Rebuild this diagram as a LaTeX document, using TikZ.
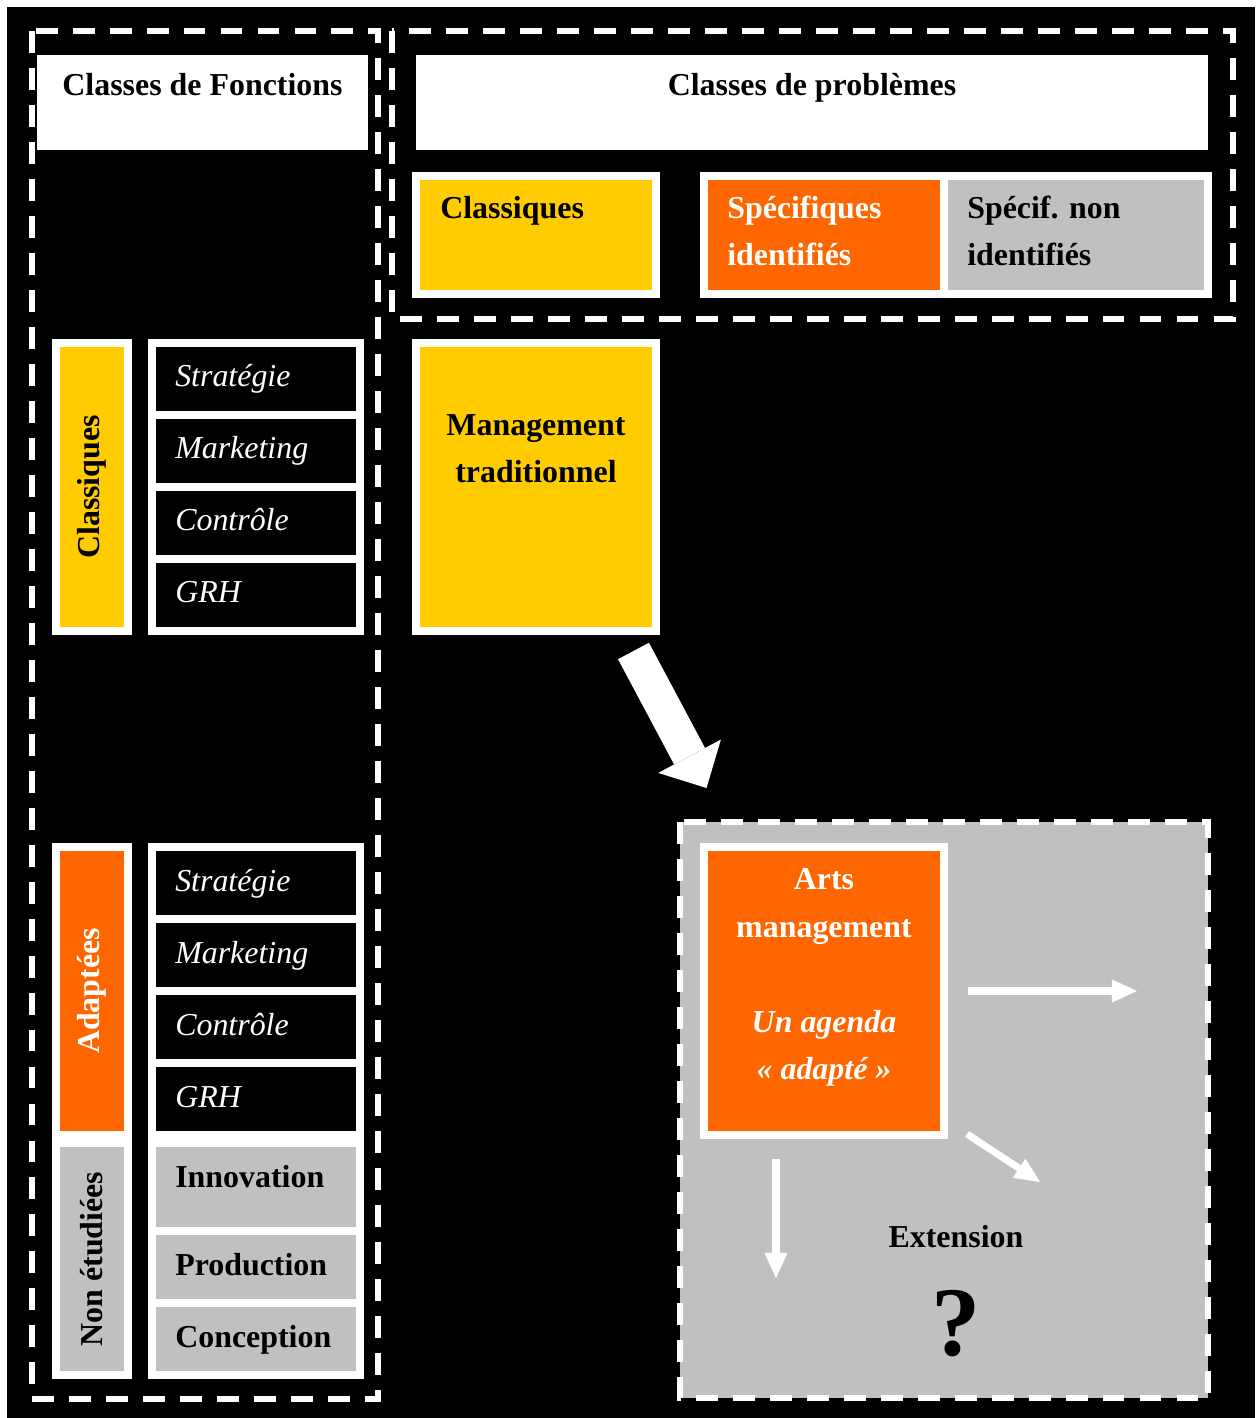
\documentclass[tikz,border=0pt]{standalone}
\usepackage{fontspec}
\setmainfont{Liberation Serif}
\usetikzlibrary{positioning,arrows.meta}

\definecolor{jaune}{HTML}{FFCC00}
\definecolor{orangeF}{HTML}{FF6600}
\definecolor{gris}{HTML}{C0C0C0}

\tikzset{
    boite/.style={draw=white, line width=5.69pt, inner sep=0pt, outer sep=0pt},
    colonne/.style={boite, minimum width=1.8cm},
    case/.style={boite, minimum width=5.2cm, minimum height=1.8cm},
    pointille/.style={draw=white, line width=3.6pt, dash pattern=on 15.6pt off 10.7pt},
    texte/.style={font=\fontsize{22.7}{33.8}\selectfont\bfseries, inner sep=0pt},
    fonction/.style={font=\fontsize{22.7}{33.8}\selectfont\itshape, text=white, inner sep=0pt, anchor=base west},
    fleche/.style={white, line width=5pt, -{Triangle[length=17.8pt, width=16.4pt, line width=0pt]}}
}

\begin{document}
\begin{tikzpicture}[x=0.025cm, y=-0.025cm]
    \useasboundingbox (0,0) rectangle (1255,1418);
    \fill[white] (0,0) rectangle (1255,1418);
    \fill[black] (7,7) rectangle (1255,1418);

    % cadres en pointilles
    \draw[pointille] (32,31) rectangle (378,1399);
    \draw[pointille] (392,31) rectangle (1233,319);
    \draw[pointille, fill=gris] (680,822) rectangle (1208,1398);

    % titres
    \node[fill=white, inner sep=0pt, minimum width=8.275cm, minimum height=2.375cm] (fonctions) at (202.5,102.5) {};
    \node[fill=white, inner sep=0pt, minimum width=19.8cm, minimum height=2.375cm] (problemes) at (812,102.5) {};
    \node[texte, anchor=base] (tfonctions) at ([shift={(0,41)}]fonctions.north) {Classes de Fonctions};
    \node[texte, anchor=base] (tproblemes) at ([shift={(0,41)}]problemes.north) {Classes de problèmes};

    % classes de problemes (base = derniere ligne)
    \node[boite, fill=jaune, minimum width=6cm, minimum height=2.95cm] (pclass) at (536,235) {};
    \node[boite, fill=orangeF, minimum width=6cm, minimum height=2.95cm] (pspec) at (824,235) {};
    \node[boite, fill=gris, minimum width=6.6cm, minimum height=2.95cm] (pnonid) at (1076,235) {};
    \node[texte, anchor=base west] (tpclass) at ([shift={(24,43)}]pclass.north west) {Classiques};
    \node[texte, text=white, anchor=base west, align=left] (tpspec) at ([shift={(23,90)}]pspec.north west) {Spécifiques\\identifiés};
    \node[texte, anchor=base west, align=left] (tpnonid) at ([shift={(23,90)}]pnonid.north west) {Spécif. non\\identifiés};

    % fonctions classiques
    \node[colonne, fill=jaune, minimum height=7.2cm] (vclass) at (92,487) {};
    \node[texte, rotate=90] (tvclass) at (vclass) {Classiques};
    \node[case, fill=black] (cstrat) at (256,379) {};
    \node[case, fill=black] (cmark) at (256,451) {};
    \node[case, fill=black] (ccont) at (256,523) {};
    \node[case, fill=black] (cgrh) at (256,595) {};
    \node[fonction] (tcstrat) at ([shift={(23,44)}]cstrat.north west) {Stratégie};
    \node[fonction] (tcmark) at ([shift={(23,44)}]cmark.north west) {Marketing};
    \node[fonction] (tccont) at ([shift={(23,44)}]ccont.north west) {Contrôle};
    \node[fonction] (tcgrh) at ([shift={(23,44)}]cgrh.north west) {GRH};

    % management traditionnel
    \node[boite, fill=jaune, minimum width=6cm, minimum height=7.2cm] (mgt) at (536,487) {};
    \node[texte, anchor=base, align=center] (tmgt) at ([shift={(0,140)}]mgt.north) {Management\\traditionnel};

    % fonctions adaptees
    \node[colonne, fill=orangeF, minimum height=7.2cm] (vadapt) at (92,991) {};
    \node[texte, text=white, rotate=90] (tvadapt) at (vadapt) {Adaptées};
    \node[case, fill=black] (astrat) at (256,883) {};
    \node[case, fill=black] (amark) at (256,955) {};
    \node[case, fill=black] (acont) at (256,1027) {};
    \node[case, fill=black] (agrh) at (256,1099) {};
    \node[fonction] (tastrat) at ([shift={(23,44)}]astrat.north west) {Stratégie};
    \node[fonction] (tamark) at ([shift={(23,44)}]amark.north west) {Marketing};
    \node[fonction] (tacont) at ([shift={(23,44)}]acont.north west) {Contrôle};
    \node[fonction] (tagrh) at ([shift={(23,44)}]agrh.north west) {GRH};

    % fonctions non etudiees
    \node[colonne, fill=gris, minimum height=5.8cm] (vnon) at (92,1259) {};
    \node[texte, rotate=90] (tvnon) at (vnon) {Non étudiées};
    \node[case, fill=gris, minimum height=2.2cm] (ninno) at (256,1187) {};
    \node[case, fill=gris] (nprod) at (256,1267) {};
    \node[case, fill=gris] (nconc) at (256,1339) {};
    \node[texte, anchor=base west] (tninno) at ([shift={(23,44)}]ninno.north west) {Innovation};
    \node[texte, anchor=base west] (tnprod) at ([shift={(23,44)}]nprod.north west) {Production};
    \node[texte, anchor=base west] (tnconc) at ([shift={(23,44)}]nconc.north west) {Conception};

    % arts management
    \node[boite, fill=orangeF, minimum width=6cm, minimum height=7.2cm] (arts) at (824,991) {};
    \node[texte, text=white, anchor=base, align=center] (tarts) at ([shift={(0,233)}]arts.north)
        {Arts\\management\\[33.8pt]\textit{Un agenda}\\\textit{«~adapté~»}};
    \node[texte, anchor=base] (ext) at (956,1247) {Extension};
    \node[font=\fontsize{70}{70}\selectfont\bfseries, inner sep=0pt, anchor=base] (quest) at (956,1355) {?};

    % fleches
    \coordinate (g1) at (633.5,651);
    \coordinate (g2) at (706.5,788);
    \draw[white, line width=24.9pt, -{Triangle[length=25.6pt, width=50.5pt, line width=0pt]}] (g1) -- (g2);
    \coordinate (d1) at (968,991);
    \coordinate (d2) at (1137,991);
    \coordinate (b1) at (776,1159);
    \coordinate (b2) at (776,1278);
    \coordinate (c1) at (967,1134);
    \coordinate (c2) at (1040,1182);
    \draw[fleche] (d1) -- (d2);
    \draw[fleche] (b1) -- (b2);
    \draw[fleche] (c1) -- (c2);
\end{tikzpicture}
\end{document}
